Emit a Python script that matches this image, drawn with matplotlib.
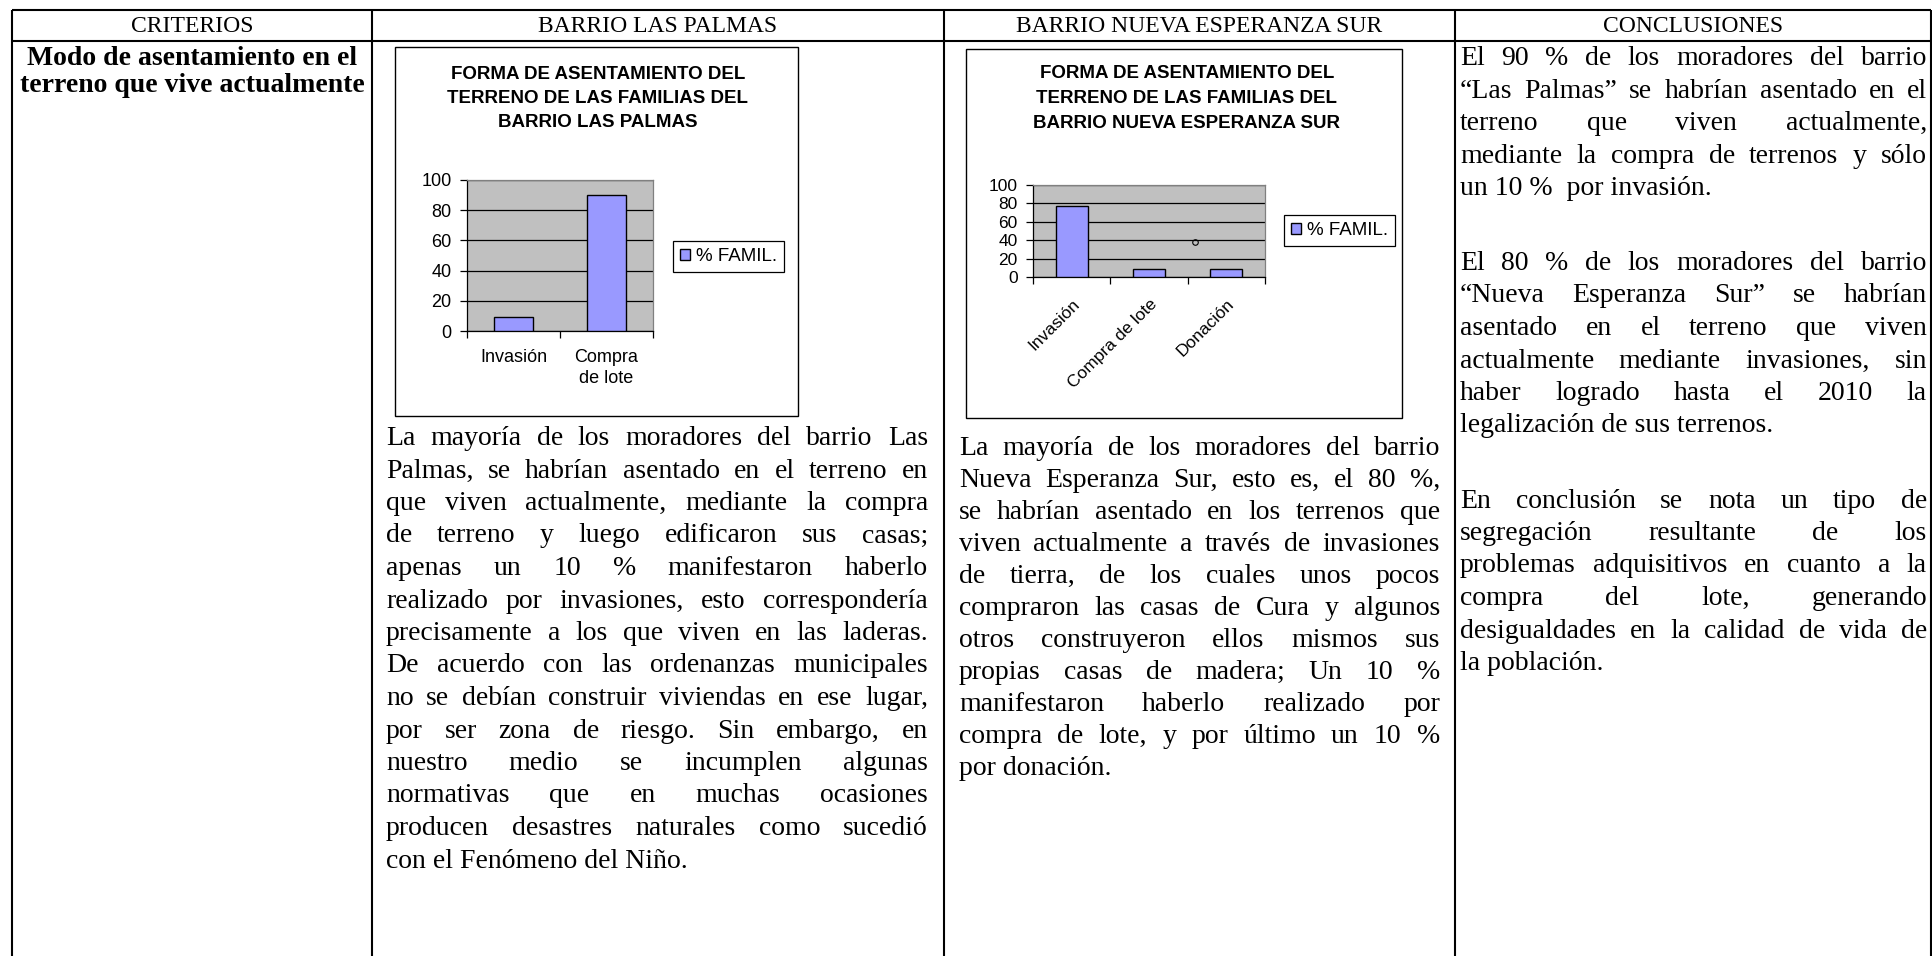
import numpy as np
import matplotlib
matplotlib.use('Agg')
import matplotlib.pyplot as plt
from matplotlib.patches import Rectangle

# ---------------- data ----------------
headers = ['CRITERIOS', 'BARRIO LAS PALMAS', 'BARRIO NUEVA ESPERANZA SUR', 'CONCLUSIONES']
criterio = ['Modo de asentamiento en el', 'terreno que vive actualmente']

chart1_title = ['FORMA DE ASENTAMIENTO DEL', 'TERRENO DE LAS FAMILIAS DEL', 'BARRIO LAS PALMAS']
chart1_categories = ['Invasión', 'Compra\nde lote']
chart1_values = [9, 90]

chart2_title = ['FORMA DE ASENTAMIENTO DEL', 'TERRENO DE LAS FAMILIAS DEL', 'BARRIO NUEVA ESPERANZA SUR']
chart2_categories = ['Invasión', 'Compra de lote', 'Donación']
chart2_values = [77, 9, 9]
chart2_stray_x = [1.6]
chart2_stray_y = [38]

yticks = [0, 20, 40, 60, 80, 100]
legend_label = '% FAMIL.'

col2_lines = [
    "La mayoría de los moradores del barrio Las",
    "Palmas, se habrían asentado en el terreno en",
    "que viven actualmente, mediante la compra",
    "de terreno y luego edificaron sus casas;",
    "apenas un 10 % manifestaron haberlo",
    "realizado por invasiones, esto correspondería",
    "precisamente a los que viven en las laderas.",
    "De acuerdo con las ordenanzas municipales",
    "no se debían construir viviendas en ese lugar,",
    "por ser zona de riesgo. Sin embargo, en",
    "nuestro medio se incumplen algunas",
    "normativas que en muchas ocasiones",
    "producen desastres naturales como sucedió",
    "con el Fenómeno del Niño.",
]
col3_lines = [
    "La mayoría de los moradores del barrio",
    "Nueva Esperanza Sur, esto es, el 80 %,",
    "se habrían asentado en los terrenos que",
    "viven actualmente a través de invasiones",
    "de tierra, de los cuales unos pocos",
    "compraron las casas de Cura y algunos",
    "otros construyeron ellos mismos sus",
    "propias casas de madera; Un 10 %",
    "manifestaron haberlo realizado por",
    "compra de lote, y por último un 10 %",
    "por donación.",
]
concl_p1 = [
    "El 90 % de los moradores del barrio",
    "“Las Palmas” se habrían asentado en el",
    "terreno que viven actualmente,",
    "mediante la compra de terrenos y sólo",
    "un 10 %  por invasión.",
]
concl_p2 = [
    "El 80 % de los moradores del barrio",
    "“Nueva Esperanza Sur” se habrían",
    "asentado en el terreno que viven",
    "actualmente mediante invasiones, sin",
    "haber logrado hasta el 2010 la",
    "legalización de sus terrenos.",
]
concl_p3 = [
    "En conclusión se nota un tipo de",
    "segregación resultante de los",
    "problemas adquisitivos en cuanto a la",
    "compra del lote, generando",
    "desigualdades en la calidad de vida de",
    "la población.",
]

# ---------------- layout ----------------
W, H, DPI = 1933, 956, 100
SERIF = 'Liberation Serif'
SANS = 'Liberation Sans'
BODY = 20.0
BAR_COLOR = '#9999FF'
PLOT_BG = '#C0C0C0'

fig = plt.figure(figsize=(W / DPI, H / DPI), dpi=DPI)
fig.patch.set_facecolor('white')
bg = fig.add_axes([0, 0, 1, 1])
bg.set_xlim(0, W)
bg.set_ylim(H, 0)
bg.axis('off')


def px_axes(x0, y0, x1, y1):
    return fig.add_axes([x0 / W, 1 - y1 / H, (x1 - x0) / W, (y1 - y0) / H])


# table grid
LW = 1.5
col_x = [12, 372, 944, 1455, 1931]
top_y, head_y = 10, 41
bg.plot([col_x[0], col_x[-1]], [top_y, top_y], color='black', lw=LW, solid_capstyle='butt')
bg.plot([col_x[0], col_x[-1]], [head_y, head_y], color='black', lw=LW, solid_capstyle='butt')
for x in col_x:
    bg.plot([x, x], [top_y, H], color='black', lw=LW, solid_capstyle='butt')

for i, h in enumerate(headers):
    bg.text((col_x[i] + col_x[i + 1]) / 2, 32, h, fontsize=17, family=SERIF,
            ha='center', va='baseline', color='black')

for i, t in enumerate(criterio):
    bg.text(192, 65 + i * 27, t, fontsize=BODY, family=SERIF, weight='bold',
            ha='center', va='baseline')

# ---------------- justified text ----------------
pending = []


def paragraph(lines, x0, x1, y0, step):
    for i, line in enumerate(lines):
        y = y0 + i * step
        last = (i == len(lines) - 1)
        if last:
            bg.text(x0, y, line, fontsize=BODY, family=SERIF, ha='left', va='baseline')
        else:
            words = line.split()
            ts = [bg.text(x0, y, w, fontsize=BODY, family=SERIF, ha='left', va='baseline')
                  for w in words]
            pending.append((ts, x0, x1))


paragraph(col2_lines, 386, 928, 445, 32.5)
paragraph(col3_lines, 959, 1440, 455, 32.0)
paragraph(concl_p1, 1460, 1927, 65, 32.5)
paragraph(concl_p2, 1460, 1927, 270, 32.5)
paragraph(concl_p3, 1460, 1927, 507.5, 32.5)

# ---------------- charts ----------------


def chart(box, plot, title_x, title_ys, title, cats, vals, tick_fs, legend_xy, rotate=False):
    bx0, by0, bx1, by1 = box
    bg.add_patch(Rectangle((bx0, by0), bx1 - bx0, by1 - by0, fill=False, ec='black', lw=1.0))
    for t, y in zip(title, title_ys):
        bg.text(title_x, y, t, fontsize=13.5, family=SANS, weight='bold', ha='center', va='center')
    ax = px_axes(*plot)
    ax.set_facecolor(PLOT_BG)
    xs = np.arange(len(cats))
    bars = ax.bar(xs, vals, width=0.41, color=BAR_COLOR, edgecolor='black', linewidth=1.0,
                  zorder=3, label=legend_label)
    ax.set_xlim(-0.5, len(cats) - 0.5)
    ax.set_ylim(0, 100)
    ax.set_yticks(yticks)
    ax.set_yticklabels([str(v) for v in yticks], family=SANS, fontsize=tick_fs)
    ax.yaxis.grid(True, color='black', lw=0.9)
    ax.set_axisbelow(True)
    ax.tick_params(axis='y', direction='out', length=5, width=0.9, pad=6)
    ax.set_xticks(np.arange(len(cats) + 1) - 0.5)
    ax.tick_params(axis='x', which='major', direction='out', length=5, width=0.9, labelbottom=False)
    ax.set_xticks(xs, minor=True)
    if rotate:
        ax.set_xticklabels(cats, minor=True, rotation=45, ha='right', rotation_mode='anchor',
                           family=SANS, fontsize=tick_fs)
        ax.tick_params(axis='x', which='minor', length=0, pad=14)
    else:
        ax.set_xticklabels(cats, minor=True, family=SANS, fontsize=tick_fs, linespacing=1.3,
                           multialignment='center')
        ax.tick_params(axis='x', which='minor', length=0, pad=13)
    for s in ['left', 'bottom']:
        ax.spines[s].set_color('black')
        ax.spines[s].set_linewidth(0.9)
    for s in ['top', 'right']:
        ax.spines[s].set_color('#808080')
        ax.spines[s].set_linewidth(0.9)
    leg = ax.legend(handles=[bars], loc='center left',
                    bbox_to_anchor=(legend_xy[0] / W, 1 - legend_xy[1] / H),
                    bbox_transform=fig.transFigure, borderaxespad=0,
                    prop={'family': SANS, 'size': 13.5}, frameon=True, fancybox=False,
                    edgecolor='black', framealpha=1, borderpad=0.35,
                    handlelength=0.55, handleheight=0.55, handletextpad=0.35)
    leg.get_frame().set_linewidth(0.9)
    return ax


ax1 = chart((395, 47, 798, 416), (467, 180, 653, 331), 598, [74, 98, 122], chart1_title,
            chart1_categories, chart1_values, 13, (673, 256.5))
ax2 = chart((966, 49, 1402, 418), (1033, 185, 1265, 277), 1187, [73, 98, 123], chart2_title,
            chart2_categories, chart2_values, 12.5, (1284, 230.5), rotate=True)
ax2.plot(chart2_stray_x, chart2_stray_y, ls='none', marker='o', ms=4, mfc='none',
         mec='black', mew=0.8, zorder=4)

# ---------------- justify ----------------
fig.canvas.draw()
renderer = fig.canvas.get_renderer()
space = BODY * DPI / 72 * 0.25
for ts, x0, x1 in pending:
    widths = [t.get_window_extent(renderer).width for t in ts]
    n = len(ts)
    gap = (x1 - x0 - sum(widths)) / (n - 1) if n > 1 else 0
    gap = max(gap, space * 0.6)
    x = x0
    for t, w in zip(ts, widths):
        t.set_x(x)
        x += w + gap

fig.savefig('out.png', dpi=DPI, facecolor='white')
